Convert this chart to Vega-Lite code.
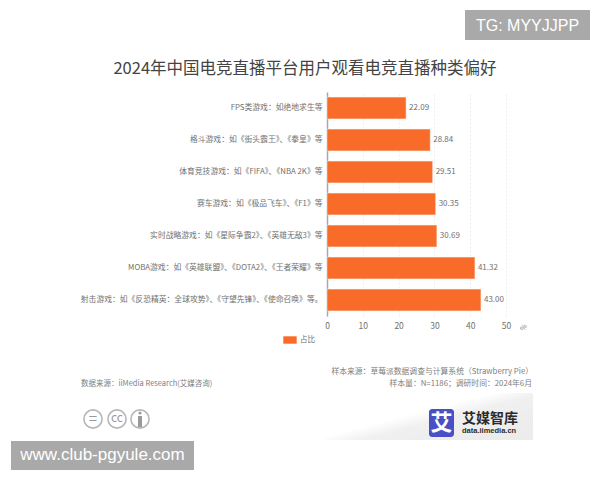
{
"$schema":"https://vega.github.io/schema/vega-lite/v6.json",
"width":179,"height":224,
"autosize":{"type":"none"},
"padding":{"left":327,"top":92,"right":94,"bottom":164},
"background":"#ffffff",
"config":{"view":{"stroke":null},"text":{"font":"Noto Sans CJK SC"}},
"layer":[
{"data":{"values":[{}]},"mark":{"type":"rect","x":-2,"x2":206,"y":301,"y2":348,"fill":{"gradient":"linear","x1":0,"y1":0.2,"x2":0.8,"y2":0.9,"stops":[{"offset":0,"color":"#ffffff"},{"offset":0.45,"color":"#ffffff"},{"offset":0.62,"color":"#f0f0f0"},{"offset":1,"color":"#ececec"}]}}},
{"data":{"values":[{}]},"mark":{"type":"text","text":"2024年中国电竞直播平台用户观看电竞直播种类偏好","x":-22,"y":-23,"align":"center","baseline":"middle","fontSize":16.5,"color":"#444444"}},
{"data":{"values":[
{"品类":"FPS类游戏：如绝地求生等","占比":22.09,"系列":"占比"},
{"品类":"格斗游戏：如《街头霸王》、《拳皇》等","占比":28.84,"系列":"占比"},
{"品类":"体育竞技游戏：如《FIFA》、《NBA 2K》等","占比":29.51,"系列":"占比"},
{"品类":"赛车游戏：如《极品飞车》、《F1》等","占比":30.35,"系列":"占比"},
{"品类":"实时战略游戏：如《星际争霸2》、《英雄无敌3》等","占比":30.69,"系列":"占比"},
{"品类":"MOBA游戏：如《英雄联盟》、《DOTA2》、《王者荣耀》等","占比":41.32,"系列":"占比"},
{"品类":"射击游戏：如《反恐精英：全球攻势》、《守望先锋》、《使命召唤》等。","占比":43.00,"系列":"占比"}
]},
"encoding":{
"y":{"field":"品类","type":"nominal","sort":null,"scale":{"paddingInner":0.32,"paddingOuter":0.16},
"axis":{"title":null,"ticks":false,"labelFont":"Noto Sans CJK SC","labelFontSize":7.8,"labelColor":"#707070","labelPadding":5,"labelLimit":300,"domainColor":"#a8a8a8","domainWidth":1.5,"grid":false}},
"x":{"field":"占比","type":"quantitative","scale":{"domain":[0,50],"nice":false},
"axis":{"values":[0,10,20,30,40,50],"title":"%","titleFont":"Noto Sans CJK SC","titleFontSize":7,"titleFontWeight":"normal","titleColor":"#777777","titleAngle":-60,"titleX":193,"titleY":9,"ticks":false,"domain":false,"labelFlush":false,"labelFont":"Noto Sans CJK SC","labelFontSize":8.5,"labelColor":"#707070","labelPadding":5,"grid":true,"gridColor":"#efefef","gridDash":[2,2]}}
},
"layer":[
{"mark":{"type":"bar","stroke":"#f2f2f2","strokeWidth":0.5},
"encoding":{"color":{"field":"系列","type":"nominal","scale":{"range":["#f96b28"]},
"legend":{"title":null,"orient":"none","legendX":-44,"legendY":241,"symbolType":"M-1,-0.55H1V0.55H-1Z","symbolSize":180,"symbolStrokeWidth":0,"labelFont":"Noto Sans CJK SC","labelFontSize":7.5,"labelColor":"#707070","labelOffset":3}}}},
{"mark":{"type":"text","align":"left","baseline":"middle","dx":3,"fontSize":8,"color":"#707070"},
"encoding":{"text":{"field":"占比","type":"quantitative","format":".2f"}}}
]},
{"data":{"values":[{}]},"mark":{"type":"text","text":"样本来源：草莓派数据调查与计算系统（Strawberry Pie）","x":206,"y":280,"align":"right","baseline":"middle","fontSize":7.8,"color":"#808080"}},
{"data":{"values":[{}]},"mark":{"type":"text","text":"样本量：N=1186；调研时间：2024年6月","x":205,"y":292,"align":"right","baseline":"middle","fontSize":7.8,"color":"#808080"}},
{"data":{"values":[{}]},"mark":{"type":"text","text":"数据来源：iiMedia Research(艾媒咨询)","x":-246,"y":292,"align":"left","baseline":"middle","fontSize":7.5,"color":"#808080"}},
{"data":{"values":[{}]},"mark":{"type":"point","shape":"circle","filled":false,"size":330,"x":-234,"y":327,"stroke":"#9a9a9a","strokeWidth":1.6}},
{"data":{"values":[{}]},"mark":{"type":"point","shape":"circle","filled":false,"size":330,"x":-210,"y":327,"stroke":"#9a9a9a","strokeWidth":1.6}},
{"data":{"values":[{}]},"mark":{"type":"point","shape":"circle","filled":false,"size":330,"x":-187,"y":327,"stroke":"#9a9a9a","strokeWidth":1.6}},
{"data":{"values":[{}]},"mark":{"type":"text","text":"=","x":-234,"y":327,"align":"center","baseline":"middle","fontSize":15,"color":"#9a9a9a"}},
{"data":{"values":[{}]},"mark":{"type":"text","text":"cc","x":-210,"y":326,"align":"center","baseline":"middle","fontSize":12,"color":"#9a9a9a"}},
{"data":{"values":[{}]},"mark":{"type":"point","shape":"circle","filled":true,"size":10,"x":-187,"y":321,"fill":"#9a9a9a","opacity":1}},
{"data":{"values":[{}]},"mark":{"type":"rect","x":-189,"x2":-185,"y":324,"y2":335,"fill":"#9a9a9a"}},
{"data":{"values":[{}]},"mark":{"type":"rect","x":102,"x2":127,"y":317,"y2":345,"fill":"#4a4fc4","cornerRadius":3}},
{"data":{"values":[{}]},"mark":{"type":"text","text":"艾","x":114.5,"y":331,"align":"center","baseline":"middle","fontSize":22,"fontWeight":"bold","color":"#ffffff"}},
{"data":{"values":[{}]},"mark":{"type":"text","text":"艾媒智库","x":135,"y":327,"align":"left","baseline":"middle","fontSize":14,"fontWeight":"bold","color":"#2b2b2b"}},
{"data":{"values":[{}]},"mark":{"type":"text","text":"data.iimedia.cn","x":135,"y":339,"align":"left","baseline":"middle","fontSize":7.5,"fontWeight":"bold","font":"Liberation Sans","color":"#2b2b2b"}},
{"data":{"values":[{}]},"mark":{"type":"rect","x":138,"x2":263,"y":-82,"y2":-52,"fill":"#a9a9a9"}},
{"data":{"values":[{}]},"mark":{"type":"text","text":"TG: MYYJJPP","x":200.5,"y":-66,"align":"center","baseline":"middle","fontSize":16,"font":"Liberation Sans","color":"#ffffff"}},
{"data":{"values":[{}]},"mark":{"type":"rect","x":-316,"x2":-133,"y":349,"y2":378,"fill":"#a9a9a9"}},
{"data":{"values":[{}]},"mark":{"type":"text","text":"www.club-pgyule.com","x":-224.5,"y":363,"align":"center","baseline":"middle","fontSize":17,"font":"Liberation Sans","color":"#ffffff"}}
]
}
